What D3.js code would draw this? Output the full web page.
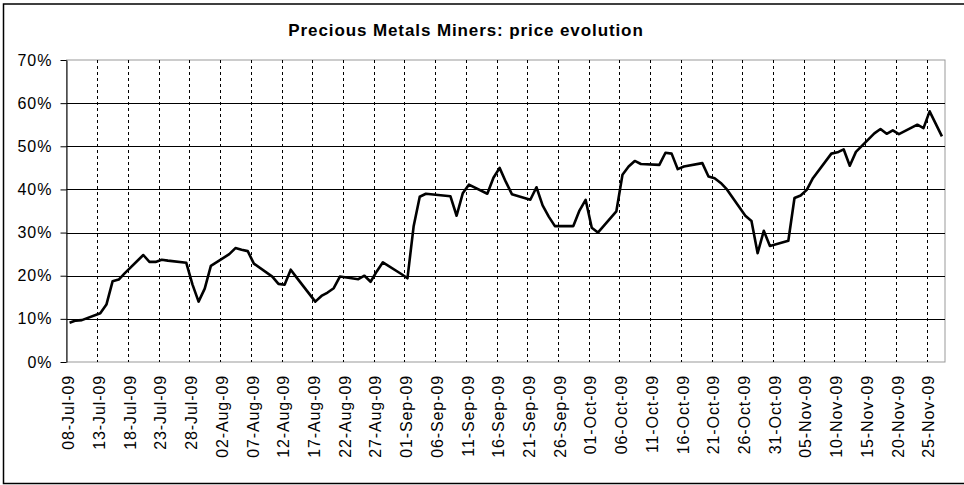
<!DOCTYPE html>
<html>
<head>
<meta charset="utf-8">
<script src="https://cdn.jsdelivr.net/npm/d3@7"></script>
<style>
  body { margin: 0; background: #fff; }
  svg text { font-family: "Liberation Sans", Arial, sans-serif; }
</style>
</head>
<body>
<div id="chart"></div>
<script>
// trading days shown on the chart
var dates = [
  "2009-07-08","2009-07-09","2009-07-10","2009-07-13","2009-07-14","2009-07-15","2009-07-16","2009-07-17",
  "2009-07-20","2009-07-21","2009-07-22","2009-07-23","2009-07-24","2009-07-27","2009-07-28","2009-07-29",
  "2009-07-30","2009-07-31","2009-08-03","2009-08-04","2009-08-05","2009-08-06","2009-08-07","2009-08-10",
  "2009-08-11","2009-08-12","2009-08-13","2009-08-14","2009-08-17","2009-08-18","2009-08-19","2009-08-20",
  "2009-08-21","2009-08-24","2009-08-25","2009-08-26","2009-08-27","2009-08-28","2009-08-31","2009-09-01",
  "2009-09-02","2009-09-03","2009-09-04","2009-09-08","2009-09-09","2009-09-10","2009-09-11","2009-09-14",
  "2009-09-15","2009-09-16","2009-09-17","2009-09-18","2009-09-21","2009-09-22","2009-09-23","2009-09-24",
  "2009-09-25","2009-09-28","2009-09-29","2009-09-30","2009-10-01","2009-10-02","2009-10-05","2009-10-06",
  "2009-10-07","2009-10-08","2009-10-09","2009-10-12","2009-10-13","2009-10-14","2009-10-15","2009-10-16",
  "2009-10-19","2009-10-20","2009-10-21","2009-10-22","2009-10-23","2009-10-26","2009-10-27","2009-10-28",
  "2009-10-29","2009-10-30","2009-11-02","2009-11-03","2009-11-04","2009-11-05","2009-11-06","2009-11-09",
  "2009-11-10","2009-11-11","2009-11-12","2009-11-13","2009-11-16","2009-11-17","2009-11-18","2009-11-19",
  "2009-11-20","2009-11-23","2009-11-24","2009-11-25","2009-11-27"
];

// price evolution in %
var values = [
  9.1, 9.6, 9.7, 11.3, 13.3, 18.7, 19.1, 20.6,
  24.8, 23.2, 23.2, 23.7, 23.5, 23.0, 18.0, 14.0,
  17.0, 22.3, 25.0, 26.4, 26.0, 25.7, 22.8, 19.8,
  18.1, 17.9, 21.4, 19.5, 14.0, 15.3, 16.1, 17.1,
  19.8, 19.2, 20.0, 18.6, 21.0, 23.1, 20.4, 19.4,
  31.4, 38.3, 39.0, 38.4, 33.9, 39.1, 41.1, 39.0,
  42.7, 45.0, 41.8, 38.9, 37.6, 40.5, 36.3, 33.7,
  31.5, 31.5, 35.1, 37.6, 31.1, 30.0, 34.9, 43.4,
  45.3, 46.6, 45.9, 45.7, 48.5, 48.3, 44.7, 45.3,
  46.1, 43.0, 42.6, 41.5, 40.0, 33.9, 32.7, 25.2,
  30.4, 26.9, 28.1, 38.0, 38.6, 39.9, 42.6, 48.3,
  48.6, 49.3, 45.5, 48.7, 53.0, 54.0, 52.9, 53.7,
  52.8, 55.0, 54.2, 58.1, 52.3
];

var xTickLabels = [
  "08-Jul-09","13-Jul-09","18-Jul-09","23-Jul-09","28-Jul-09","02-Aug-09","07-Aug-09","12-Aug-09",
  "17-Aug-09","22-Aug-09","27-Aug-09","01-Sep-09","06-Sep-09","11-Sep-09","16-Sep-09","21-Sep-09",
  "26-Sep-09","01-Oct-09","06-Oct-09","11-Oct-09","16-Oct-09","21-Oct-09","26-Oct-09","31-Oct-09",
  "05-Nov-09","10-Nov-09","15-Nov-09","20-Nov-09","25-Nov-09"
];

var yTicks = [0, 10, 20, 30, 40, 50, 60, 70];
var yTickLabels = ["0%", "10%", "20%", "30%", "40%", "50%", "60%", "70%"];

var title = "Precious Metals Miners: price evolution";

var W = 964, H = 485;
var plotLeft = 66.5, plotRight = 945, plotTop = 60, plotBottom = 362;

var parseDate = d3.utcParse("%Y-%m-%d");
var parseTick = d3.utcParse("%d-%b-%y");

var data = dates.map(function (d, i) {
  return { date: d3.utcHour.offset(parseDate(d), 12), value: values[i] };
});
var tickDates = xTickLabels.map(function (t) { return parseTick(t); });

var x = d3.scaleUtc()
  .domain([parseDate("2009-07-08"), parseDate("2009-11-28")])
  .range([plotLeft, plotRight]);

var y = d3.scaleLinear().domain([0, 70]).range([plotBottom, plotTop]);

var svg = d3.select("#chart").append("svg")
  .attr("width", W).attr("height", H)
  .style("display", "block");

svg.append("rect").attr("width", W).attr("height", H).attr("fill", "#fff");

// chart frame
svg.append("rect")
  .attr("x", 3.5).attr("y", 4)
  .attr("width", 980).attr("height", 479.5)
  .attr("fill", "none").attr("stroke", "#000").attr("stroke-width", 1.5);

svg.append("text")
  .attr("x", 466).attr("y", 36)
  .attr("text-anchor", "middle")
  .style("font-size", "17px").style("font-weight", "bold")
  .style("letter-spacing", "0.9px")
  .text(title);

// plot area border
svg.append("rect")
  .attr("x", plotLeft).attr("y", plotTop)
  .attr("width", plotRight - plotLeft).attr("height", plotBottom - plotTop)
  .attr("fill", "#fff").attr("stroke", "#999").attr("stroke-width", 1);

// horizontal gridlines
svg.append("g").selectAll("line")
  .data(yTicks.filter(function (v) { return v > 0 && v < 70; }))
  .enter().append("line")
  .attr("x1", plotLeft).attr("x2", plotRight)
  .attr("y1", function (d) { return Math.round(y(d)) + 0.5; })
  .attr("y2", function (d) { return Math.round(y(d)) + 0.5; })
  .attr("stroke", "#000").attr("stroke-width", 1);

// vertical dashed gridlines
svg.append("g").selectAll("line")
  .data(tickDates.slice(1))
  .enter().append("line")
  .attr("x1", function (d) { return Math.round(x(d)) + 0.5; })
  .attr("x2", function (d) { return Math.round(x(d)) + 0.5; })
  .attr("y1", plotTop).attr("y2", plotBottom)
  .attr("stroke", "#000").attr("stroke-width", 1)
  .attr("stroke-dasharray", "3,3");

// y axis
var yAxis = d3.axisLeft(y)
  .tickValues(yTicks)
  .tickFormat(function (d, i) { return yTickLabels[i]; })
  .tickSize(6).tickSizeOuter(0).tickPadding(8);

var yG = svg.append("g")
  .attr("transform", "translate(" + plotLeft + ",0)")
  .call(yAxis);
yG.select(".domain").attr("stroke", "#000");
yG.selectAll(".tick line").attr("stroke", "#000");
yG.selectAll("text")
  .style("font-size", "16px").style("letter-spacing", "1px")
  .attr("fill", "#000");

// x labels
var xAxis = d3.axisBottom(x)
  .tickValues(tickDates)
  .tickFormat(function (d, i) { return xTickLabels[i]; })
  .tickSize(0).tickSizeOuter(0);

var xG = svg.append("g")
  .attr("transform", "translate(0," + plotBottom + ")")
  .call(xAxis);
xG.select(".domain").remove();
xG.selectAll("text")
  .attr("transform", "rotate(-90)")
  .attr("x", -13).attr("y", 0).attr("dy", "0.45em")
  .attr("text-anchor", "end")
  .style("font-size", "16px").style("letter-spacing", "0.9px")
  .attr("fill", "#000");

// price line
var line = d3.line()
  .x(function (d) { return x(d.date); })
  .y(function (d) { return y(d.value); });

svg.append("path")
  .datum(data)
  .attr("fill", "none")
  .attr("stroke", "#000")
  .attr("stroke-width", 2.6)
  .attr("stroke-linejoin", "round")
  .attr("d", line);
</script>
</body>
</html>
